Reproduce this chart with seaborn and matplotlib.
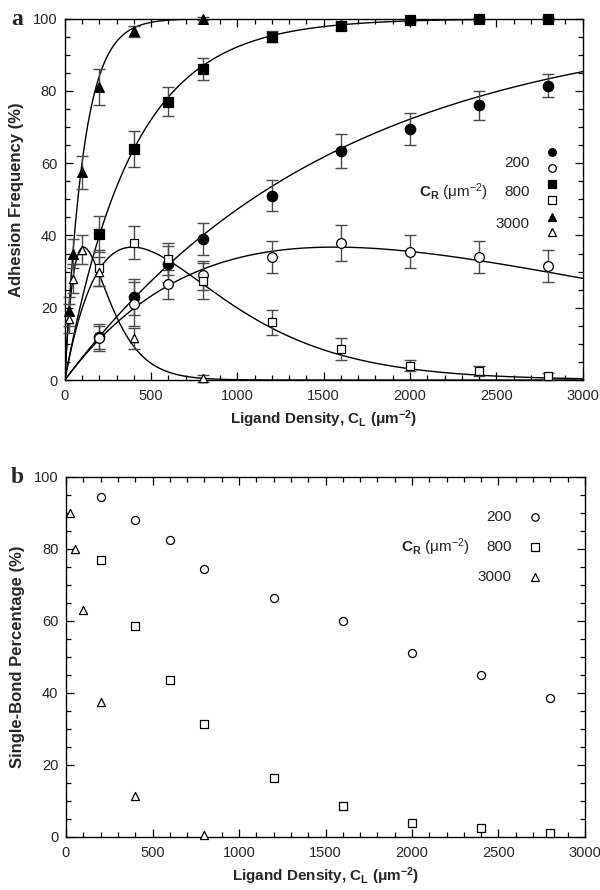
import numpy as np
import pandas as pd
import matplotlib
matplotlib.use("Agg")
import matplotlib.pyplot as plt
import seaborn as sns

# ---------------- data ----------------
x_200 = [200, 400, 600, 800, 1200, 1600, 2000, 2400, 2800]
x_800 = [200, 400, 600, 800, 1200, 1600, 2000, 2400, 2800]
x_3000 = [25, 50, 100, 200, 400, 800]

adh_200 = [12, 23, 32, 39, 51, 63.5, 69.5, 76, 81.5]
adh_200_err = [3.5, 5, 5, 4.5, 4.3, 4.7, 4.5, 4, 3.3]
single_200 = [11.5, 21, 26.5, 29, 34, 38, 35.5, 34, 31.5]
single_200_err = [3.5, 6, 4, 4, 4.5, 5, 4.5, 4.5, 4.5]

adh_800 = [40.5, 64, 77, 86, 95, 98, 99.5, 99.8, 100]
adh_800_err = [5, 5, 4, 3, 1.5, 1, 0.5, 0.5, 0.5]
single_800 = [31, 38, 33.5, 27.5, 16, 8.5, 4, 2.5, 1]
single_800_err = [5, 4.5, 4.5, 5, 3.5, 3, 1.5, 1.5, 1.0]

adh_3000 = [19, 35, 57.5, 81, 96.5, 100]
adh_3000_err = [4, 4, 4.5, 5, 1.5, 0.5]
single_3000 = [17, 28, 36, 30, 11.5, 0.5]
single_3000_err = [4, 4, 4, 4, 3, 1]

pct_200 = [94.5, 88, 82.5, 74.5, 66.5, 60, 51, 45, 38.5]
pct_800 = [77, 58.5, 43.5, 31.5, 16.5, 8.5, 4, 2.5, 1]
pct_3000 = [90, 80, 63, 37.5, 11.5, 0.5]

# fitted rate constants (per um^-2) of the model curves
k_fit = {"200": 6.4e-4, "800": 2.55e-3, "3000": 9.2e-3}

# ---------------- style ----------------
sns.set_style("ticks")
plt.rcParams['font.family'] = ['Liberation Sans', 'DejaVu Sans']
plt.rcParams['mathtext.fontset'] = 'custom'
plt.rcParams['mathtext.rm'] = 'Liberation Sans'
plt.rcParams['mathtext.bf'] = 'Liberation Sans:bold'
plt.rcParams['mathtext.it'] = 'Liberation Sans:italic'
plt.rcParams['xtick.direction'] = 'in'
plt.rcParams['ytick.direction'] = 'in'

fig = plt.figure(figsize=(6, 8.9), dpi=100)
axA = fig.add_axes([0.108, 0.573, 0.863, 0.406])
axB = fig.add_axes([0.110, 0.0596, 0.865, 0.4045])

ERRC = "#4a4a4a"


def style_axes(ax, ylabel):
    ax.set_xlim(0, 3000)
    ax.set_ylim(0, 100)
    ax.set_xticks(np.arange(0, 3001, 500))
    ax.set_xticks(np.arange(0, 3001, 100), minor=True)
    ax.set_yticks(np.arange(0, 101, 20))
    ax.set_yticks(np.arange(0, 101, 5), minor=True)
    ax.tick_params(which='both', top=True, right=True, direction='in',
                   width=0.9, color='black')
    ax.tick_params(which='major', length=6, labelsize=10.5)
    ax.tick_params(axis='x', which='major', pad=6.5)
    ax.tick_params(axis='y', which='major', pad=5.5)
    ax.tick_params(which='minor', length=3.5)
    for s in ax.spines.values():
        s.set_linewidth(1.0)
        s.set_color('black')
    ax.set_xlabel(r"Ligand Density, C$_\mathbf{L}$ ($\mathbf{\mu}$m$^\mathbf{-2}$)",
                  fontsize=11, fontweight='bold', labelpad=4)
    ax.set_ylabel(ylabel, fontsize=12, fontweight='bold', labelpad=6)


# ---------------- panel a ----------------
xs = np.concatenate([np.linspace(0, 300, 600), np.linspace(300, 3000, 900)])
curves = []
for key, k in k_fit.items():
    lam = k * xs
    curves.append(pd.DataFrame({"x": xs, "y": 100 * (1 - np.exp(-lam)),
                                "curve": key + "_all"}))
    curves.append(pd.DataFrame({"x": xs, "y": 100 * lam * np.exp(-lam),
                                "curve": key + "_single"}))
curve_df = pd.concat(curves, ignore_index=True)
sns.lineplot(data=curve_df, x="x", y="y", units="curve", estimator=None,
             color="black", lw=1.0, ax=axA, legend=False, sort=False)

series_a = [
    (x_200, adh_200, adh_200_err, 'o', 'black', 7.5),
    (x_200, single_200, single_200_err, 'o', 'white', 7.0),
    (x_800, adh_800, adh_800_err, 's', 'black', 7.0),
    (x_800, single_800, single_800_err, 's', 'white', 5.8),
    (x_3000, adh_3000, adh_3000_err, '^', 'black', 7.0),
    (x_3000, single_3000, single_3000_err, '^', 'white', 6.0),
]
for xv, yv, ev, m, fc, ms in series_a:
    axA.errorbar(xv, yv, yerr=ev, fmt='none', ecolor=ERRC, elinewidth=1.0,
                 capsize=4.5, capthick=1.0, zorder=3, clip_on=False)
    df = pd.DataFrame({"x": xv, "y": yv})
    sns.scatterplot(data=df, x="x", y="y", marker=m, s=ms ** 2, color=fc,
                    edgecolor='black', linewidth=0.9, ax=axA, zorder=4,
                    clip_on=False, legend=False)

style_axes(axA, "Adhesion Frequency (%)")

# legend panel a
leg_rows = [0.632, 0.588, 0.543, 0.499, 0.452, 0.410]
leg_styles = [('o', 'black'), ('o', 'white'), ('s', 'black'),
              ('s', 'white'), ('^', 'black'), ('^', 'white')]
for yy, (m, fc) in zip(leg_rows, leg_styles):
    axA.plot([0.940], [yy], marker=m, ms=5.5, mfc=fc, mec='black', mew=0.9,
             transform=axA.transAxes, ls='none', clip_on=False)
for txt, yy in zip(["200", "800", "3000"], [0.601, 0.519, 0.432]):
    axA.text(0.898, yy, txt, transform=axA.transAxes, ha='right',
             va='center', fontsize=11)
axA.text(0.817, 0.519, r"$\mathbf{C}_\mathbf{R}$ (μm$^{-2}$)",
         transform=axA.transAxes, ha='right', va='center', fontsize=11)

# ---------------- panel b ----------------
series_b = [
    (x_200, pct_200, 'o', 5.8),
    (x_800, pct_800, 's', 5.3),
    (x_3000, pct_3000, '^', 5.8),
]
for xv, yv, m, ms in series_b:
    df = pd.DataFrame({"x": xv, "y": yv})
    sns.scatterplot(data=df, x="x", y="y", marker=m, s=ms ** 2, color='white',
                    edgecolor='black', linewidth=0.9, ax=axB, zorder=4,
                    clip_on=False, legend=False)

style_axes(axB, "Single-Bond Percentage (%)")

for yy, m in zip([0.889, 0.806, 0.722], ['o', 's', '^']):
    axB.plot([0.904], [yy], marker=m, ms=5.3, mfc='white', mec='black',
             mew=0.9, transform=axB.transAxes, ls='none', clip_on=False)
for txt, yy in zip(["200", "800", "3000"], [0.889, 0.806, 0.722]):
    axB.text(0.859, yy, txt, transform=axB.transAxes, ha='right',
             va='center', fontsize=11)
axB.text(0.778, 0.806, r"$\mathbf{C}_\mathbf{R}$ (μm$^{-2}$)",
         transform=axB.transAxes, ha='right', va='center', fontsize=11)

# panel letters
fig.text(0.018, 1 - 25 / 890, "a", fontsize=17, fontweight='bold',
         family=['Liberation Serif', 'DejaVu Serif'], va='baseline')
fig.text(0.018, 1 - 483 / 890, "b", fontsize=17, fontweight='bold',
         family=['Liberation Serif', 'DejaVu Serif'], va='baseline')

fig.savefig("out.png", dpi=100)
